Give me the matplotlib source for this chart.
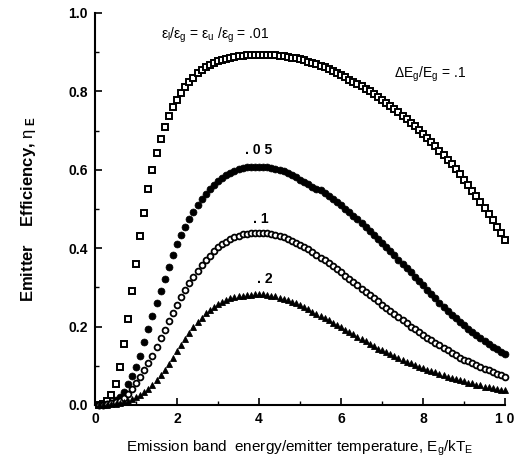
# -*- coding:utf-8 -*-
"""
Emitter efficiency vs. emission band energy / emitter temperature
"""
import numpy as np
import matplotlib
matplotlib.use('Agg')
import matplotlib.pyplot as plt
from matplotlib.ticker import MultipleLocator

plt.rcParams['font.family'] = ['Liberation Sans', 'DejaVu Sans']
plt.rcParams['mathtext.fontset'] = 'custom'
plt.rcParams['mathtext.rm'] = 'Liberation Sans'
plt.rcParams['mathtext.it'] = 'Liberation Sans'
plt.rcParams['mathtext.bf'] = 'Liberation Sans:bold'

# Eg/kTE, 0.1 ... 10.0
x_vals = [round(0.1 * i, 1) for i in range(1, 101)]

# eps_l/eps_g = eps_u/eps_g = .01  (open squares)
eff_01 = [
    0.000, 0.002, 0.010, 0.026, 0.053, 0.097, 0.156, 0.220, 0.292, 0.360,
    0.430, 0.490, 0.551, 0.600, 0.642, 0.678, 0.708, 0.737, 0.759, 0.778,
    0.795, 0.810, 0.823, 0.835, 0.846, 0.855, 0.862, 0.868, 0.873, 0.877,
    0.880, 0.883, 0.886, 0.888, 0.890, 0.891, 0.892, 0.893, 0.894, 0.894,
    0.894, 0.894, 0.893, 0.892, 0.891, 0.890, 0.888, 0.886, 0.884, 0.882,
    0.879, 0.876, 0.873, 0.869, 0.865, 0.861, 0.856, 0.851, 0.846, 0.841,
    0.836, 0.830, 0.825, 0.819, 0.813, 0.807, 0.800, 0.793, 0.786, 0.779,
    0.771, 0.763, 0.755, 0.747, 0.738, 0.729, 0.720, 0.711, 0.701, 0.691,
    0.681, 0.671, 0.660, 0.649, 0.638, 0.626, 0.614, 0.601, 0.588, 0.575,
    0.561, 0.547, 0.533, 0.518, 0.503, 0.487, 0.471, 0.455, 0.438, 0.421,
]

# .05  (filled circles)
eff_05 = [
    0.000, 0.001, 0.003, 0.006, 0.012, 0.021, 0.034, 0.053, 0.073, 0.097,
    0.126, 0.160, 0.194, 0.227, 0.261, 0.292, 0.322, 0.352, 0.382, 0.410,
    0.434, 0.455, 0.475, 0.493, 0.510, 0.525, 0.539, 0.551, 0.562, 0.571,
    0.579, 0.586, 0.592, 0.597, 0.601, 0.604, 0.606, 0.607, 0.608, 0.608,
    0.608, 0.607, 0.605, 0.603, 0.600, 0.596, 0.592, 0.587, 0.581, 0.575,
    0.569, 0.563, 0.557, 0.550, 0.548, 0.541, 0.534, 0.526, 0.518, 0.510,
    0.501, 0.492, 0.483, 0.474, 0.464, 0.454, 0.444, 0.434, 0.424, 0.414,
    0.404, 0.393, 0.382, 0.371, 0.360, 0.349, 0.338, 0.327, 0.316, 0.305,
    0.294, 0.283, 0.272, 0.260, 0.249, 0.240, 0.230, 0.221, 0.212, 0.203,
    0.195, 0.187, 0.179, 0.171, 0.163, 0.156, 0.149, 0.142, 0.136, 0.130,
]

# .1  (open circles)
eff_1 = [
    0.000, 0.001, 0.002, 0.004, 0.007, 0.011, 0.018, 0.028, 0.040, 0.055,
    0.071, 0.088, 0.106, 0.126, 0.148, 0.170, 0.192, 0.214, 0.235, 0.256,
    0.276, 0.294, 0.311, 0.327, 0.342, 0.356, 0.369, 0.381, 0.392, 0.402,
    0.410, 0.417, 0.423, 0.428, 0.432, 0.435, 0.437, 0.438, 0.439, 0.439,
    0.439, 0.438, 0.436, 0.434, 0.431, 0.428, 0.424, 0.419, 0.414, 0.409,
    0.403, 0.397, 0.390, 0.383, 0.376, 0.369, 0.362, 0.354, 0.346, 0.338,
    0.330, 0.322, 0.314, 0.306, 0.297, 0.289, 0.280, 0.272, 0.264, 0.256,
    0.248, 0.240, 0.232, 0.224, 0.216, 0.208, 0.200, 0.193, 0.186, 0.179,
    0.172, 0.165, 0.158, 0.152, 0.145, 0.139, 0.133, 0.127, 0.121, 0.116,
    0.111, 0.106, 0.101, 0.096, 0.092, 0.088, 0.084, 0.080, 0.076, 0.072,
]

# .2  (filled triangles)
eff_2 = [
    0.000, 0.000, 0.001, 0.002, 0.003, 0.005, 0.008, 0.011, 0.015, 0.020,
    0.026, 0.033, 0.042, 0.052, 0.063, 0.076, 0.090, 0.105, 0.121, 0.137,
    0.153, 0.169, 0.184, 0.198, 0.211, 0.223, 0.234, 0.243, 0.251, 0.258,
    0.263, 0.268, 0.272, 0.275, 0.277, 0.279, 0.280, 0.281, 0.282, 0.282,
    0.282, 0.281, 0.279, 0.277, 0.274, 0.271, 0.267, 0.263, 0.259, 0.254,
    0.249, 0.244, 0.238, 0.233, 0.227, 0.222, 0.216, 0.210, 0.204, 0.198,
    0.192, 0.186, 0.180, 0.174, 0.168, 0.162, 0.156, 0.150, 0.144, 0.139,
    0.134, 0.129, 0.124, 0.119, 0.114, 0.110, 0.106, 0.102, 0.098, 0.094,
    0.090, 0.086, 0.083, 0.079, 0.076, 0.072, 0.069, 0.066, 0.063, 0.060,
    0.057, 0.055, 0.052, 0.050, 0.047, 0.045, 0.043, 0.041, 0.039, 0.037,
]

x_ticks = [0, 2, 4, 6, 8, 10]
x_ticklabels = ['0', '2', '4', '6', '8', '1 0']
y_ticks = [0.0, 0.2, 0.4, 0.6, 0.8, 1.0]
y_ticklabels = ['0.0', '0.2', '0.4', '0.6', '0.8', '1.0']


def main():
    fig = plt.figure(figsize=(5.15, 4.63), dpi=100)
    ax = fig.add_axes([0.1845, 0.1253, 0.7961, 0.8467])

    x = np.array(x_vals)
    ax.plot(x, eff_01, ls='none', marker='s', ms=4.2, mfc='white',
            mec='black', mew=1.4, clip_on=False, zorder=3)
    ax.plot(x, eff_05, ls='none', marker='o', ms=5.0, mfc='black',
            mec='black', mew=0.5, clip_on=False, zorder=3)
    ax.plot(x, eff_1, ls='none', marker='o', ms=4.2, mfc='white',
            mec='black', mew=1.3, clip_on=False, zorder=3)
    ax.plot(x, eff_2, ls='none', marker='^', ms=4.6, mfc='black',
            mec='black', mew=0.6, clip_on=False, zorder=3)

    ax.set_xlim(0, 10)
    ax.set_ylim(0, 1.0)
    for side in ('top', 'right'):
        ax.spines[side].set_visible(False)
    for side in ('left', 'bottom'):
        ax.spines[side].set_linewidth(1.5)

    ax.set_xticks(x_ticks)
    ax.set_xticklabels(x_ticklabels, fontweight='bold', fontsize=10)
    ax.set_yticks(y_ticks)
    ax.set_yticklabels(y_ticklabels, fontweight='bold', fontsize=10)
    ax.xaxis.set_minor_locator(MultipleLocator(1))
    ax.yaxis.set_minor_locator(MultipleLocator(0.1))
    ax.tick_params(which='major', direction='in', length=5, width=1.2, pad=5)
    ax.tick_params(which='minor', direction='in', length=3, width=1.0)

    ax.set_xlabel(r'Emission band  energy/emitter temperature, E$_{\rm g}$/kT$_{\rm E}$',
                  fontsize=11, labelpad=9)
    ax.set_ylabel(r'Emitter    Efficiency, $\eta_{\ \mathbf{E}}$',
                  fontsize=12, fontweight='bold', labelpad=22)

    ax.text(1.6, 0.935, r'$\varepsilon_l/\varepsilon_g$ = $\varepsilon_u$ /$\varepsilon_g$ = .01',
            fontsize=10)
    ax.text(7.3, 0.835, r'$\Delta$E$_g$/E$_g$ = .1', fontsize=10)
    ax.text(3.65, 0.64, '. 0 5', fontsize=10, fontweight='bold')
    ax.text(3.85, 0.465, '. 1', fontsize=10, fontweight='bold')
    ax.text(3.95, 0.31, '. 2', fontsize=10, fontweight='bold')

    fig.savefig('out.png', dpi=100)


if __name__ == '__main__':
    main()
